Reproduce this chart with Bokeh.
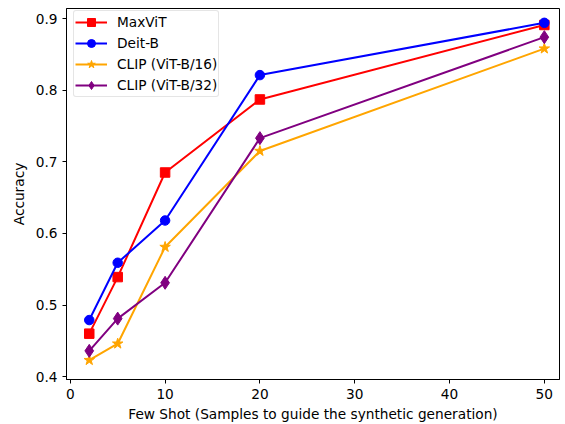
from bokeh.plotting import figure
from bokeh.embed import file_html
from bokeh.resources import INLINE
from bokeh.models import Range1d, FixedTicker, Legend, LegendItem

shots = [2, 5, 10, 20, 50]
maxvit = [0.460, 0.539, 0.685, 0.787, 0.891]
deit_b = [0.479, 0.559, 0.618, 0.821, 0.894]
clip_b16 = [0.423, 0.446, 0.581, 0.715, 0.858]
clip_b32 = [0.436, 0.481, 0.531, 0.733, 0.874]
names = ["MaxViT", "Deit-B", "CLIP (ViT-B/16)", "CLIP (ViT-B/32)"]
colors = ["red", "blue", "orange", "purple"]
markers = ["square", "circle", "star", "diamond"]
sizes = [9.5, 9.5, 11, 13]
x_ticks = [0, 10, 20, 30, 40, 50]
y_ticks = [0.4, 0.5, 0.6, 0.7, 0.8, 0.9]

FONT = "DejaVu Sans"
FS = "13.7px"

p = figure(width=565, height=424, output_backend="svg", toolbar_location=None,
           x_range=Range1d(-0.4, 51.6), y_range=Range1d(0.396, 0.914),
           min_border_left=66, min_border_right=6, min_border_top=8, min_border_bottom=44)
p.grid.visible = False
p.outline_line_color = "black"
p.outline_line_width = 1

items = []
for ys, nm, c, m, s in zip([maxvit, deit_b, clip_b16, clip_b32], names, colors, markers, sizes):
    r1 = p.line(shots, ys, line_color=c, line_width=2)
    r2 = p.scatter(shots, ys, marker=m, size=s, fill_color=c, line_color=c)
    items.append(LegendItem(label=nm, renderers=[r1, r2]))

legend = Legend(items=items, location=(7, 282))
legend.label_text_font = FONT
legend.label_text_font_size = FS
legend.label_text_color = "black"
legend.border_line_color = "#cccccc"
legend.border_line_width = 1
legend.border_radius = 3
legend.glyph_width = 32
legend.glyph_height = 20
legend.spacing = 1
legend.padding = 1
legend.margin = 0
legend.label_standoff = 10
p.add_layout(legend)

for ax in (p.xaxis[0], p.yaxis[0]):
    ax.major_label_text_font = FONT
    ax.major_label_text_font_size = FS
    ax.major_label_text_color = "black"
    ax.axis_label_text_font = FONT
    ax.axis_label_text_font_size = FS
    ax.axis_label_text_font_style = "normal"
    ax.axis_label_text_color = "black"
    ax.minor_tick_line_color = None
    ax.major_tick_out = 4
    ax.major_tick_in = 0
    ax.axis_line_color = "black"
    ax.major_tick_line_color = "black"

p.xaxis.ticker = FixedTicker(ticks=x_ticks)
p.yaxis.ticker = FixedTicker(ticks=y_ticks)
p.xaxis.axis_label = "Few Shot (Samples to guide the synthetic generation)"
p.yaxis.axis_label = "Accuracy"
p.xaxis.axis_label_standoff = 4
p.yaxis.axis_label_standoff = 6

open("out.html", "w").write(file_html(p, INLINE))
